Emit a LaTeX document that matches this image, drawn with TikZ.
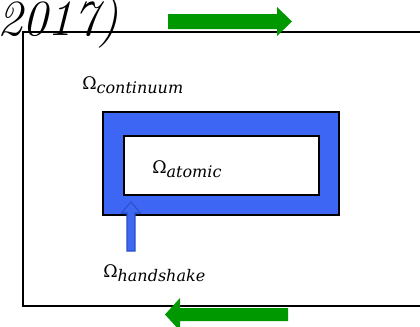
\documentclass[tikz,border=0pt]{standalone}
\usepackage{fontspec}
\usepackage{tikz}

\newfontfamily\omegafont{DejaVu Serif}
\definecolor{handblue}{RGB}{61,102,245}
\definecolor{arrowblue}{RGB}{62,104,240}
\definecolor{arrowedge}{RGB}{40,80,205}
\definecolor{flowgreen}{RGB}{0,152,0}
\newcommand{\omlabel}[1]{{\omegafont\fontsize{13}{13}\selectfont Ω\raisebox{-3.5pt}{\fontsize{12}{12}\selectfont\itshape #1}}}

\begin{document}
\begin{tikzpicture}[x=0.75pt,y=0.75pt,yscale=-1,xscale=1]
\useasboundingbox (0,0) rectangle (420,326);
\clip (0,0) rectangle (420,326);

% Text Node
\draw (-3,35) node [anchor=base west][inner sep=0pt] (year) {\fontsize{38}{38}\selectfont\itshape 2017)};
%Shape: Rectangle [continuum]
\draw  [line width=1.5]  (23,32) rectangle (440,306) ;
%Shape: Rectangle [handshake]
\draw  [fill=handblue, line width=1.5]  (103,112) rectangle (339,215) ;
%Shape: Rectangle [atomic]
\draw  [fill=white, line width=1.2]  (124,136) rectangle (319,195) ;
%Shape: Right Arrow
\fill  [flowgreen]  (168,14) -- (277,14) -- (277,7) -- (292,21.5) -- (277,36) -- (277,29) -- (168,29) -- cycle ;
%Shape: Left Arrow
\fill  [flowgreen]  (288,308) -- (180,308) -- (180,298) -- (165,314.5) -- (180,331) -- (180,321) -- (288,321) -- cycle ;

% Text Node
\draw (82,89) node [anchor=base west][inner sep=0pt] (continuum) {\omlabel{continuum}};
% Text Node
\draw (152,173) node [anchor=base west][inner sep=0pt] (atomic) {\omlabel{atomic}};
% Text Node
\draw (103,277) node [anchor=base west][inner sep=0pt] (handshake) {\omlabel{handshake}};

%Shape: Up Arrow [pointer]
\coordinate (hstip) at (131,202);
\coordinate (hsfoot) at (131,251);
\draw  [fill=arrowblue, draw=arrowedge, line width=0.8]  (hsfoot) ++(-4,0) -- ++(0,-38) -- ++(-5.5,0) -- (hstip) -- ++(9.5,11) -- ++(-5.5,0) -- ++(0,38) -- cycle ;

\end{tikzpicture}
\end{document}
